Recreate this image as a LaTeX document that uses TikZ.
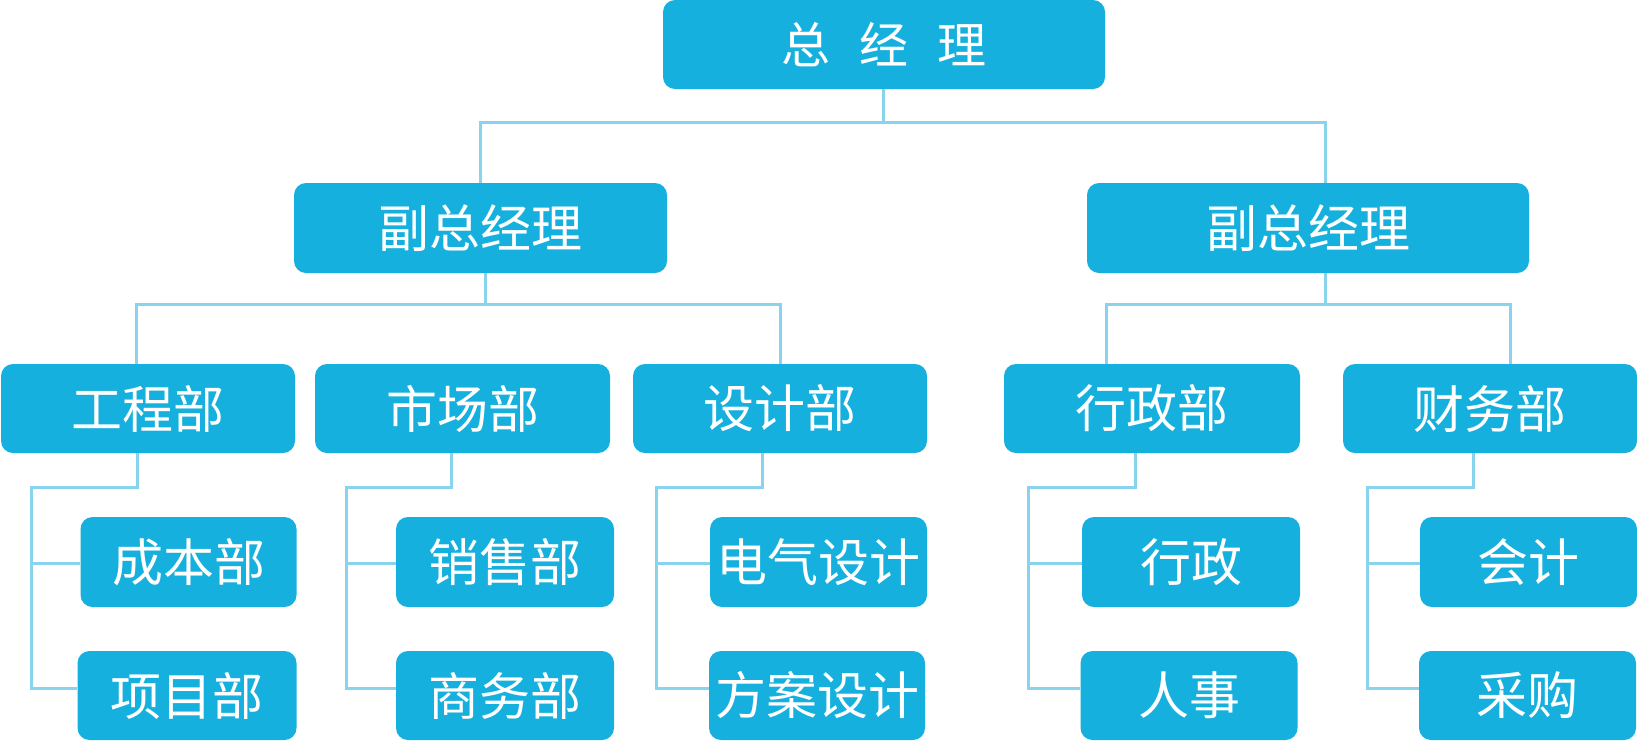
\documentclass[tikz,border=0pt]{standalone}
\usepackage{fontspec}
\newfontfamily\cjk{Noto Sans CJK SC}
\definecolor{boxblue}{RGB}{21,176,221}
\definecolor{lineblue}{RGB}{138,211,238}
\begin{document}
\begin{tikzpicture}[x=1pt,y=-1pt,
  box/.style={rectangle, rounded corners=12pt, fill=boxblue, text=white, inner sep=0pt,
    font=\cjk\fontsize{51pt}{54pt}\selectfont},
  topbox/.style={box, font=\cjk\fontsize{49pt}{52pt}\selectfont},
  conn/.style={draw=lineblue, line width=3pt}]
\useasboundingbox (0,0) rectangle (1637,742);
% level 1
\node[topbox, minimum width=442pt, minimum height=89pt] (top) at (884,44.5) {总\hspace{29pt}经\hspace{29pt}理};
% level 2
\node[box, minimum width=373pt, minimum height=90pt] (vpL) at (480.5,228) {副总经理};
\node[box, minimum width=442pt, minimum height=90pt] (vpR) at (1308,228) {副总经理};
% level 3
\node[box, minimum width=294pt, minimum height=89pt] (gc) at (148,408.5) {工程部};
\node[box, minimum width=295pt, minimum height=89pt] (sc) at (462.5,408.5) {市场部};
\node[box, minimum width=294pt, minimum height=89pt] (sj) at (780,408.5) {设计部};
\node[box, minimum width=296pt, minimum height=89pt] (xz) at (1152,408.5) {行政部};
\node[box, minimum width=294pt, minimum height=89pt] (cw) at (1490,408.5) {财务部};
% level 4
\node[box, minimum width=216pt, minimum height=90pt] (cb) at (188.5,562) {成本部};
\node[box, minimum width=219pt, minimum height=89pt] (xm) at (187,695.5) {项目部};
\node[box, minimum width=218pt, minimum height=90pt] (xs) at (505,562) {销售部};
\node[box, minimum width=218pt, minimum height=89pt] (sw) at (505,695.5) {商务部};
\node[box, minimum width=217pt, minimum height=90pt] (dq) at (818.5,562) {电气设计};
\node[box, minimum width=216pt, minimum height=89pt] (fa) at (817,695.5) {方案设计};
\node[box, minimum width=218pt, minimum height=90pt] (xzs) at (1191,562) {行政};
\node[box, minimum width=217pt, minimum height=89pt] (rs) at (1189,695.5) {人事};
\node[box, minimum width=217pt, minimum height=90pt] (kj) at (1528.5,562) {会计};
\node[box, minimum width=217pt, minimum height=89pt] (cg) at (1527.5,695.5) {采购};
% level 1 -> 2
\coordinate (bus1) at (883,122);
\draw[conn] ([xshift=-1pt]top.south) -- (bus1);
\draw[conn] (vpL.north) |- (bus1) -| ([xshift=17pt]vpR.north);
% level 2 -> 3
\coordinate (bus2L) at (485,304);
\coordinate (bus2R) at (1325,304);
\draw[conn] ([xshift=4.5pt]vpL.south) -- (bus2L);
\draw[conn] ([xshift=-11.5pt]gc.north) |- (bus2L) -| (sj.north);
\draw[conn] ([xshift=17pt]vpR.south) -- (bus2R);
\draw[conn] ([xshift=-46pt]xz.north) |- (bus2R) -| ([xshift=20pt]cw.north);
% level 3 -> 4
\coordinate (gcA) at (31,487);
\draw[conn] ([xshift=-11pt]gc.south) |- (gcA) |- ([yshift=7pt]xm.west);
\draw[conn] (gcA) |- ([yshift=-1pt]cb.west);
\coordinate (scA) at (346,487);
\draw[conn] ([xshift=-11.5pt]sc.south) |- (scA) |- ([yshift=7pt]sw.west);
\draw[conn] (scA) |- ([yshift=-1pt]xs.west);
\coordinate (sjA) at (656,487);
\draw[conn] ([xshift=-17.5pt]sj.south) |- (sjA) |- ([yshift=7pt]fa.west);
\draw[conn] (sjA) |- ([yshift=-1pt]dq.west);
\coordinate (xzA) at (1028,487);
\draw[conn] ([xshift=-17pt]xz.south) |- (xzA) |- ([yshift=7pt]rs.west);
\draw[conn] (xzA) |- ([yshift=-1pt]xzs.west);
\coordinate (cwA) at (1367.5,487);
\draw[conn] ([xshift=-17pt]cw.south) |- (cwA) |- ([yshift=7pt]cg.west);
\draw[conn] (cwA) |- ([yshift=-1pt]kj.west);
\end{tikzpicture}
\end{document}
